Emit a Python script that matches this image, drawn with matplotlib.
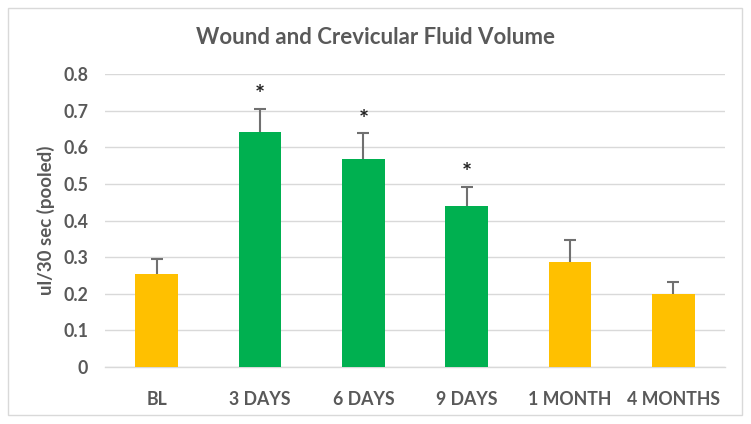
import matplotlib
matplotlib.use("Agg")
import matplotlib.pyplot as plt
from matplotlib.patches import Rectangle

categories = ["BL", "3 DAYS", "6 DAYS", "9 DAYS", "1 MONTH", "4 MONTHS"]
values = [0.254, 0.642, 0.567, 0.440, 0.287, 0.200]
errors = [0.042, 0.062, 0.071, 0.051, 0.061, 0.031]
significant = [False, True, True, True, False, False]
yticks = [0, 0.1, 0.2, 0.3, 0.4, 0.5, 0.6, 0.7, 0.8]
ytick_labels = ["0", "0.1", "0.2", "0.3", "0.4", "0.5", "0.6", "0.7", "0.8"]

YELLOW = "#FFC000"
GREEN = "#00B050"
TEXT = "#595959"
GRID = "#D9D9D9"
ERR = "#707070"

plt.rcParams['font.family'] = ['Lato', 'DejaVu Sans']

fig = plt.figure(figsize=(7.51, 4.24), dpi=100)
fig.patch.set_facecolor("white")
fig.add_artist(Rectangle((8/751, 1-415/424), (742-8)/751, (415-8)/424,
                         transform=fig.transFigure, fill=False,
                         edgecolor=GRID, linewidth=1.0))

ax = fig.add_axes([105/751, 1-367/424, (725-105)/751, (367-74)/424])
colors = [GREEN if s else YELLOW for s in significant]
x = list(range(len(categories)))
ax.bar(x, values, width=0.41, color=colors, zorder=3)
tops = [v + e for v, e in zip(values, errors)]
ax.vlines(x, values, tops, color=ERR, linewidth=1.5, zorder=4)
ax.plot(x, tops, linestyle="none", marker="_", markersize=8, markeredgewidth=1.5,
        color=ERR, zorder=4)
for xi, t, s in zip(x, tops, significant):
    if s:
        ax.text(xi, t + 0.036, "*", ha="center", va="center",
                fontsize=17, fontweight="bold", color="#222222")

ax.set_xlim(-0.5, len(categories) - 0.5)
ax.set_ylim(0, 0.8)
ax.set_yticks(yticks)
ax.set_yticklabels(ytick_labels)
ax.set_xticks(x)
ax.set_xticklabels(categories)
ax.yaxis.grid(True, color=GRID, linewidth=1.0, zorder=0)
ax.set_axisbelow(True)
for sp in ["top", "right", "left"]:
    ax.spines[sp].set_visible(False)
ax.spines["bottom"].set_color(GRID)
ax.spines["bottom"].set_linewidth(1.0)
ax.tick_params(axis="both", length=0, colors=TEXT, labelsize=12.8)
ax.tick_params(axis="x", pad=17)
ax.tick_params(axis="y", pad=12)
for lbl in ax.get_xticklabels() + ax.get_yticklabels():
    lbl.set_fontweight("bold")

ax.set_ylabel("ul/30 sec (pooled)", fontsize=13.5, fontweight="bold", color=TEXT, labelpad=6)
fig.text(0.5, 1-38/424, "Wound and Crevicular Fluid Volume", ha="center", va="center",
         fontsize=16, fontweight="bold", color=TEXT)

fig.savefig("out.png", dpi=100)
